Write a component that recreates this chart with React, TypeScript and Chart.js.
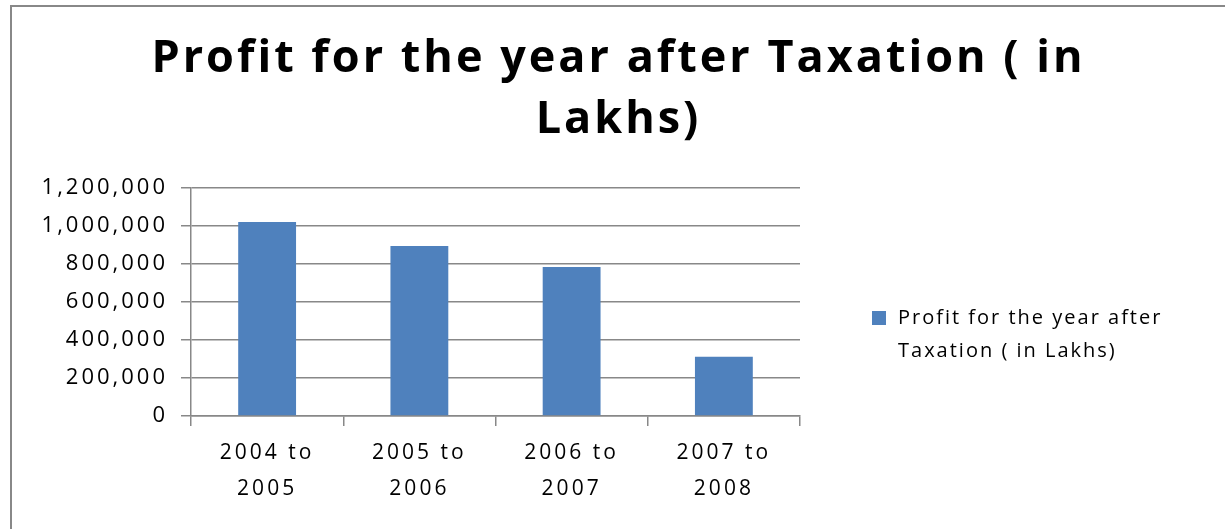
import React, { useEffect, useRef } from "react";
import { Chart, registerables, layouts } from "chart.js";

Chart.register(...registerables);

const categories: string[][] = [
  ["2004 to", "2005"],
  ["2005 to", "2006"],
  ["2006 to", "2007"],
  ["2007 to", "2008"],
];
const seriesLabel = "Profit for the year after Taxation ( in Lakhs)";
const profitValues: number[] = [1021000, 895000, 784000, 312000];
const titleLines: string[] = ["Profit for the year after Taxation ( in", "Lakhs)"];
const legendLines: string[] = ["Profit for the year after", "Taxation ( in Lakhs)"];

const FONT = "'Open Sans', 'Liberation Sans', sans-serif";
const SPACING = "3px";

const spacingPlugin = {
  id: "spacing",
  beforeUpdate(chart: any) {
    chart.ctx.letterSpacing = SPACING;
  },
  beforeLayout(chart: any) {
    chart.ctx.letterSpacing = SPACING;
  },
  beforeDraw(chart: any) {
    chart.ctx.letterSpacing = SPACING;
  },
};

const legendPlugin = {
  id: "sideLegend",
  beforeInit(chart: any) {
    const box: any = {
      position: "right",
      weight: 1000,
      fullSize: false,
      options: {},
      left: 0,
      top: 0,
      right: 0,
      bottom: 0,
      width: 0,
      height: 0,
      isHorizontal() {
        return false;
      },
      update(_maxWidth: number, maxHeight: number) {
        box.width = 425;
        box.height = maxHeight;
      },
      draw() {
        const ctx = chart.ctx;
        const ds = chart.data.datasets[0];
        const x = box.left + 72;
        const y = 311;
        ctx.save();
        ctx.letterSpacing = "2px";
        ctx.fillStyle = ds.backgroundColor;
        ctx.fillRect(x, y - 7, 14, 14);
        ctx.fillStyle = "#000";
        ctx.font = `20px ${FONT}`;
        ctx.textBaseline = "middle";
        ctx.textAlign = "left";
        legendLines.forEach((line, i) => {
          ctx.fillText(line, x + 26, y + i * 33);
        });
        ctx.restore();
        ctx.letterSpacing = SPACING;
      },
    };
    layouts.addBox(chart, box);
  },
};

export default function App() {
  const ref = useRef<HTMLCanvasElement>(null);

  useEffect(() => {
    if (!ref.current) return;
    const chart = new Chart(ref.current, {
      type: "bar",
      data: {
        labels: categories,
        datasets: [
          {
            label: seriesLabel,
            data: profitValues,
            backgroundColor: "#4F81BD",
            categoryPercentage: 1,
            barPercentage: 0.38,
          },
        ],
      },
      options: {
        animation: false,
        responsive: false,
        devicePixelRatio: 1,
        layout: { padding: 0 },
        plugins: {
          legend: { display: false },
          tooltip: { enabled: false },
          title: {
            display: true,
            text: titleLines,
            color: "#000",
            font: { family: FONT, size: 45, weight: "bold", lineHeight: 61 / 45 },
            padding: { top: 21.5, bottom: 37.5 },
          },
        },
        scales: {
          x: {
            offset: true,
            grid: {
              offset: true,
              drawOnChartArea: false,
              drawTicks: true,
              tickLength: 10,
              color: "#888",
              lineWidth: 1.5,
            },
            border: { display: true, color: "#888", width: 1.5 },
            ticks: {
              color: "#000",
              padding: 9,
              maxRotation: 0,
              autoSkip: false,
              font: { family: FONT, size: 21, lineHeight: 36 / 21 },
            },
            afterFit(scale: any) {
              scale.height = 113;
            },
          },
          y: {
            min: 0,
            max: 1200000,
            grid: {
              color: "#888",
              lineWidth: 1.5,
              tickLength: 10,
            },
            border: { display: true, color: "#888", width: 1.5 },
            ticks: {
              stepSize: 200000,
              color: "#000",
              padding: 13,
              font: { family: FONT, size: 22 },
              callback: (v: any) => Number(v).toLocaleString("en-US"),
            },
            afterFit(scale: any) {
              scale.width = 179;
            },
          },
        },
      },
      plugins: [spacingPlugin, legendPlugin],
    });
    return () => chart.destroy();
  }, []);

  return (
    <div
      style={{
        position: "fixed",
        left: 10,
        top: 5,
        width: 1215,
        height: 524,
        boxSizing: "border-box",
        borderLeft: "2px solid #888",
        borderTop: "2px solid #888",
        background: "#fff",
        overflow: "hidden",
      }}
    >
      <canvas ref={ref} width={1213} height={522} style={{ display: "block" }} />
    </div>
  );
}
